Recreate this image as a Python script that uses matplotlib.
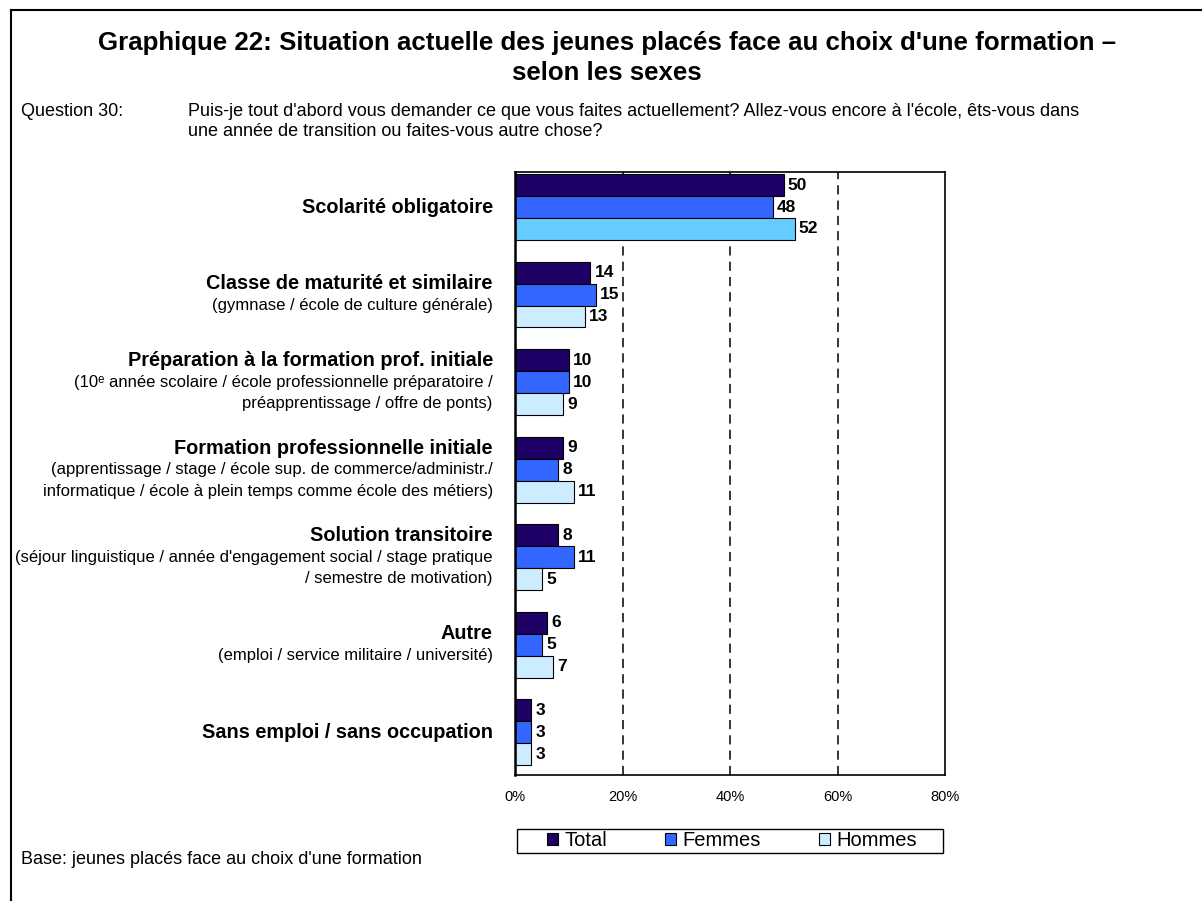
import numpy as np
import matplotlib
matplotlib.use("Agg")
import matplotlib.pyplot as plt
from matplotlib.patches import Patch, Rectangle
from matplotlib.lines import Line2D

plt.rcParams['font.family'] = ['Liberation Sans', 'DejaVu Sans']

# données
categories = [
    "Scolarité obligatoire",
    "Classe de maturité et similaire",
    "Préparation à la formation prof. initiale",
    "Formation professionnelle initiale",
    "Solution transitoire",
    "Autre",
    "Sans emploi / sans occupation",
]
sous_titres = [
    [],
    ["(gymnase / école de culture générale)"],
    ["(10ᵉ année scolaire / école professionnelle préparatoire /",
     "préapprentissage / offre de ponts)"],
    ["(apprentissage / stage / école sup. de commerce/administr./",
     "informatique / école à plein temps comme école des métiers)"],
    ["(séjour linguistique / année d'engagement social / stage pratique",
     "/ semestre de motivation)"],
    ["(emploi / service militaire / université)"],
    [],
]
total = [50, 14, 10, 9, 8, 6, 3]
femmes = [48, 15, 10, 8, 11, 5, 3]
hommes = [52, 13, 9, 11, 5, 7, 3]
series_noms = ["Total", "Femmes", "Hommes"]
x_ticks = [0, 20, 40, 60, 80]

colors = ['#1f0066', '#3366ff', '#ccecff']
hommes_first = '#66ccff'

W, H = 1202, 901
def px(x):
    return x / W
def py(y):
    return 1 - y / H

fig = plt.figure(figsize=(W / 100, H / 100), dpi=100)
ax = fig.add_axes([px(515), py(775), px(945) - px(515), py(172) - py(775)])

y = np.arange(len(categories))
bh = 0.251
hommes_colors = [hommes_first] + [colors[2]] * (len(categories) - 1)
b1 = ax.barh(y - bh, total, height=bh, color=colors[0], edgecolor='black', linewidth=0.8)
b2 = ax.barh(y, femmes, height=bh, color=colors[1], edgecolor='black', linewidth=0.8)
b3 = ax.barh(y + bh, hommes, height=bh, color=hommes_colors, edgecolor='black', linewidth=0.8)
for b in (b1, b2, b3):
    ax.bar_label(b, padding=3, fontsize=12.5, fontweight='bold')

ax.set_xlim(0, 80)
ax.set_ylim(6.49, -0.40)
ax.set_xticks(x_ticks)
ax.set_xticklabels(["%d%%" % v for v in x_ticks], fontsize=10.5)
ax.set_yticks([])
ax.tick_params(axis='x', length=0, pad=11)
for s in ax.spines.values():
    s.set_linewidth(1.2)
    s.set_color('black')
ax.spines['left'].set_linewidth(1.8)
for v in x_ticks[1:-1]:
    ax.axvline(v, color='black', linewidth=1.1, linestyle=(0, (6, 4)), zorder=0)

# étiquettes des catégories
lh = 15.5
for i, (cat, subs) in enumerate(zip(categories, sous_titres)):
    n = 1 + len(subs)
    top = (n - 1) / 2 * lh
    ax.annotate(cat, xy=(0, i), xycoords=('axes fraction', 'data'),
                xytext=(-16, top), textcoords='offset points',
                ha='right', va='center', fontsize=14.3, fontweight='bold')
    for j, s in enumerate(subs):
        ax.annotate(s, xy=(0, i), xycoords=('axes fraction', 'data'),
                    xytext=(-16, top - (j + 1) * lh), textcoords='offset points',
                    ha='right', va='center', fontsize=12)

# titre et question
fig.text(px(607), py(43), "Graphique 22: Situation actuelle des jeunes placés face au choix d'une formation –",
         ha='center', va='center', fontsize=18.6, fontweight='bold')
fig.text(px(607), py(73), "selon les sexes", ha='center', va='center', fontsize=18.6, fontweight='bold')
fig.text(px(21), py(112), "Question 30:", ha='left', va='center', fontsize=13)
fig.text(px(188), py(112), "Puis-je tout d'abord vous demander ce que vous faites actuellement? Allez-vous encore à l'école, êts-vous dans",
         ha='left', va='center', fontsize=13)
fig.text(px(188), py(132), "une année de transition ou faites-vous autre chose?",
         ha='left', va='center', fontsize=13)
fig.text(px(21), py(860), "Base: jeunes placés face au choix d'une formation",
         ha='left', va='center', fontsize=13)

# légende
fig.patches.append(Rectangle((px(517), py(853)), px(943) - px(517), py(829) - py(853),
                             transform=fig.transFigure, fill=False, edgecolor='black', linewidth=1))
handles = [Patch(facecolor=c, edgecolor='black', linewidth=0.8) for c in colors]
fig.legend(handles, series_noms, loc='center', bbox_to_anchor=(px(732), py(841)),
           ncol=3, frameon=False, fontsize=14.5, handlelength=0.55, handleheight=0.55,
           handletextpad=0.3, columnspacing=2.9)

# cadre
fig.add_artist(Line2D([px(11), 1], [py(10), py(10)], color='black', linewidth=1.5))
fig.add_artist(Line2D([px(11), px(11)], [py(10), 0], color='black', linewidth=1.5))

fig.savefig("out.png", dpi=100)
